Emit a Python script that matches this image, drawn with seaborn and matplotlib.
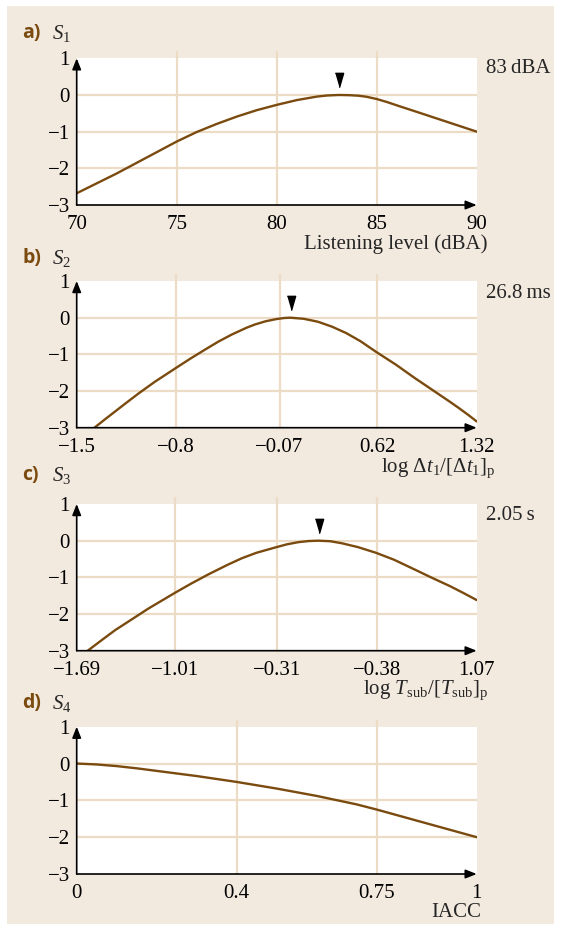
import numpy as np
import pandas as pd
import matplotlib
matplotlib.use("Agg")
import matplotlib.pyplot as plt
from matplotlib.patches import Rectangle
import seaborn as sns

# ---------------- data ----------------
s1_x = [70, 71, 72, 73, 74, 75, 76, 77, 78, 79, 80, 81, 82, 82.5, 83.1, 83.6, 84.1, 84.5, 85, 85.5, 86.1, 87, 88, 89, 90]
s1_y = [-2.68, -2.41, -2.14, -1.85, -1.56, -1.27, -1.01, -0.79, -0.59, -0.415, -0.27, -0.14, -0.045, -0.015, 0.0,
        -0.005, -0.02, -0.05, -0.11, -0.19, -0.30, -0.46, -0.64, -0.82, -1.0]

s2_x = [-1.375, -1.30, -1.23, -1.15, -1.065, -0.95, -0.80, -0.70, -0.595, -0.50, -0.407, -0.30, -0.243, -0.17,
        -0.095, -0.04, 0.004, 0.10, 0.20, 0.30, 0.40, 0.50, 0.61, 0.75, 0.885, 1.00, 1.13, 1.20, 1.26, 1.32]
s2_y = [-3.0, -2.77, -2.56, -2.32, -2.07, -1.75, -1.37, -1.12, -0.87, -0.65, -0.46, -0.27, -0.185, -0.10,
        -0.04, -0.01, 0.0, -0.03, -0.11, -0.245, -0.42, -0.64, -0.93, -1.28, -1.65, -1.95, -2.29, -2.48, -2.65, -2.83]

s3_x = [-1.614, -1.50, -1.425, -1.30, -1.195, -1.007, -0.90, -0.782, -0.65, -0.551, -0.45, -0.315, -0.24, -0.16,
        -0.09, -0.022, 0.06, 0.139, 0.25, 0.375, 0.50, 0.644, 0.76, 0.886, 0.98, 1.07]
s3_y = [-3.0, -2.66, -2.44, -2.12, -1.85, -1.41, -1.17, -0.92, -0.66, -0.48, -0.33, -0.18, -0.10, -0.04,
        -0.01, 0.0, -0.015, -0.07, -0.175, -0.33, -0.52, -0.79, -1.01, -1.24, -1.43, -1.62]

s4_x = [0.0, 0.05, 0.1, 0.15, 0.2, 0.3, 0.4, 0.5, 0.6, 0.7, 0.75, 0.8, 0.9, 1.0]
s4_y = [0.0, -0.025, -0.07, -0.13, -0.20, -0.34, -0.50, -0.68, -0.88, -1.11, -1.25, -1.40, -1.70, -2.0]

peak_x = [83.1, 0.01, -0.02, None]
peak_y = [0.40, 0.39, 0.41, None]

xticks_a = [70, 75, 80, 85, 90]
xlabels_a = ["70", "75", "80", "85", "90"]
xticks_b = [-1.5, -0.8, -0.07, 0.62, 1.32]
xlabels_b = ["\u22121.5", "\u22120.8", "\u22120.07", "0.62", "1.32"]
xticks_c = [-1.69, -1.01, -0.31, 0.38, 1.07]
xlabels_c = ["\u22121.69", "\u22121.01", "\u22120.31", "\u22120.38", "1.07"]
xticks_d = [0, 0.4, 0.75, 1]
xlabels_d = ["0", "0.4", "0.75", "1"]
yticks = [1, 0, -1, -2, -3]
ylabels = ["1", "0", "\u22121", "\u22122", "\u22123"]

panel_letters = ["a)", "b)", "c)", "d)"]
panel_ylabels = [r"$S_\mathrm{1}$", r"$S_\mathrm{2}$", r"$S_\mathrm{3}$", r"$S_\mathrm{4}$"]
panel_xlabels = ["Listening level (dBA)",
                 r"log $\Delta t_\mathrm{1}/[\Delta t_\mathrm{1}]_\mathrm{p}$",
                 r"log $T_\mathrm{sub}/[T_\mathrm{sub}]_\mathrm{p}$",
                 "IACC"]
right_notes = ["83\u2009dBA", "26.8\u2009ms", "2.05\u2009s", None]

# ---------------- style ----------------
sns.set_theme(style="white")
plt.rcParams["font.family"] = ["Liberation Serif", "DejaVu Serif"]
plt.rcParams["mathtext.fontset"] = "custom"
plt.rcParams["mathtext.rm"] = "Liberation Serif"
plt.rcParams["mathtext.it"] = "Liberation Serif:italic"
plt.rcParams["mathtext.bf"] = "Liberation Serif:bold"

BEIGE = "#f2e9df"
GRID = "#ecdcc6"
BROWN = "#7a4a0e"
FS = 15

W, H = 561, 930
fig = plt.figure(figsize=(W / 100, H / 100), dpi=100)
fig.patch.set_facecolor("white")
fig.patches.append(Rectangle((7 / W, 1 - 924 / H), (554 - 7) / W, (924 - 6) / H,
                             transform=fig.transFigure, facecolor=BEIGE,
                             edgecolor="none", zorder=-10))

def fx(px):
    return px / W

def fy(py):
    return 1 - py / H

left, right = 76.7, 476.7
tops = [58.3, 281.0, 504.0, 726.7]
bottoms = [205.0, 427.7, 650.7, 874.0]
letter_y = [33.3, 258.3, 475.0, 703.3]
note_y = [68.3, 293.3, 515.0, None]
xlabel_pos = [(488, 243.8), (496, 468.5), (488, 690.5), (481, 912.0)]

series = [(s1_x, s1_y), (s2_x, s2_y), (s3_x, s3_y), (s4_x, s4_y)]
ticks = [(xticks_a, xlabels_a), (xticks_b, xlabels_b), (xticks_c, xlabels_c), (xticks_d, xlabels_d)]
xlims = [(70, 90), (-1.5, 1.32), (-1.69, 1.07), (0, 1)]

tri = [(-0.29, 0.5), (0.29, 0.5), (0.0, -0.5)]

for i in range(4):
    ax = fig.add_axes([fx(left), fy(bottoms[i]), (right - left) / W, (bottoms[i] - tops[i]) / H])
    ax.set_facecolor("white")
    xs, ys = series[i]
    df = pd.DataFrame({"x": xs, "y": ys})
    sns.lineplot(data=df, x="x", y="y", ax=ax, color=BROWN, lw=1.7, zorder=5, sort=False)
    for ln in ax.lines:
        ln.set_solid_joinstyle("round")
        ln.set_solid_capstyle("round")
    ax.set_xlim(*xlims[i])
    ax.set_ylim(-3, 1)
    tv, tl = ticks[i]
    ax.set_xticks(tv)
    ax.set_xticklabels(tl, fontsize=FS)
    ax.set_yticks(yticks)
    ax.set_yticklabels(ylabels, fontsize=FS)
    ax.tick_params(axis="both", length=0, colors="black")
    ax.tick_params(axis="x", pad=7.5)
    ax.tick_params(axis="y", pad=5)
    ax.set_xlabel("")
    ax.set_ylabel("")
    # grid
    for v in tv[1:-1]:
        ax.axvline(v, ymin=0, ymax=1.04, color=GRID, lw=1.6, zorder=1, clip_on=False)
    for v in [0, -1, -2]:
        ax.axhline(v, color=GRID, lw=1.6, zorder=1)
    for s in ["top", "right", "left", "bottom"]:
        ax.spines[s].set_visible(False)
    # axes with arrows
    ax.annotate("", xy=(0, 1.0), xytext=(0, 0), xycoords="axes fraction",
                arrowprops=dict(arrowstyle="-|>,head_length=0.55,head_width=0.22",
                                color="black", lw=1.2, shrinkA=0, shrinkB=0), zorder=6)
    ax.annotate("", xy=(1.0, 0), xytext=(0, 0), xycoords="axes fraction",
                arrowprops=dict(arrowstyle="-|>,head_length=0.55,head_width=0.22",
                                color="black", lw=1.2, shrinkA=0, shrinkB=0), zorder=6)
    if peak_x[i] is not None:
        ax.plot([peak_x[i]], [peak_y[i]], marker=tri, color="black", ms=10.3,
                linestyle="none", zorder=7)
    # texts
    fig.text(fx(22.0), fy(letter_y[i]), panel_letters[i], color=BROWN,
             family=["Open Sans", "DejaVu Sans"], weight="bold", fontsize=14,
             ha="left", va="center")
    fig.text(fx(51.5), fy(letter_y[i]), panel_ylabels[i], fontsize=FS,
             ha="left", va="center")
    if right_notes[i] is not None:
        fig.text(fx(486), fy(note_y[i]), right_notes[i], fontsize=FS,
                 ha="left", va="center")
    xp, yp = xlabel_pos[i]
    fig.text(fx(xp), fy(yp), panel_xlabels[i], fontsize=FS, ha="right", va="center")

fig.savefig("out.png", dpi=100, facecolor="white")
